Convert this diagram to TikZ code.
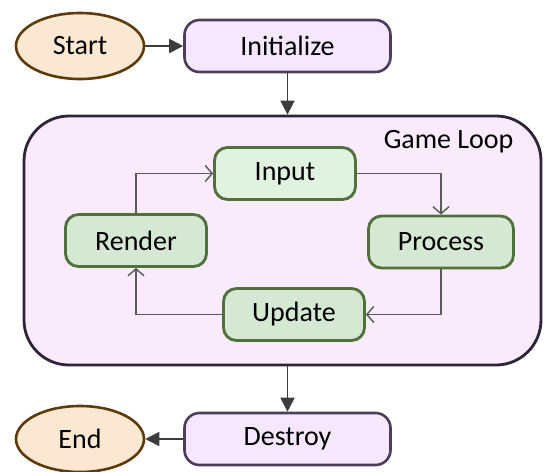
\documentclass[tikz,border=0pt]{standalone}
\usepackage{fontspec}
\setmainfont{Carlito}
\usetikzlibrary{arrows.meta,shapes.geometric}

\definecolor{termfill}{HTML}{FAE8D2}
\definecolor{termline}{HTML}{5E3A0A}
\definecolor{lilfill}{HTML}{F5E8FE}
\definecolor{lilline}{HTML}{4D3D5A}
\definecolor{loopfill}{HTML}{F9EAFC}
\definecolor{loopline}{HTML}{2E2438}
\definecolor{infill}{HTML}{E1F3E0}
\definecolor{grfill}{HTML}{D5E8D4}
\definecolor{grline}{HTML}{50703C}
\definecolor{flowline}{HTML}{3C3C3C}
\definecolor{cycleline}{HTML}{5A5A5A}

\tikzset{
  terminal/.style={ellipse, draw=termline, fill=termfill, line width=2.6pt,
    minimum width=128pt, minimum height=66pt, inner sep=0pt},
  stage/.style={rectangle, rounded corners=15pt, draw=lilline, fill=lilfill,
    line width=2.6pt, minimum width=206pt, minimum height=52pt, inner sep=0pt},
  phase/.style={rectangle, rounded corners=13pt, draw=grline, fill=grfill,
    line width=2.8pt, minimum width=141pt, minimum height=52pt, inner sep=0pt},
  loopbox/.style={rectangle, rounded corners=45pt, draw=loopline, fill=loopfill,
    line width=2.8pt, minimum width=517pt, minimum height=249pt, inner sep=0pt},
  flow/.style={draw=flowline, line width=1.8pt, -{Triangle[length=14pt,width=14pt]}},
  cycle/.style={draw=cycleline, line width=1.4pt, -{Straight Barb[length=7pt,width=16pt]}},
  every node/.style={font=\fontsize{28}{32}\selectfont}
}

\begin{document}
\begin{tikzpicture}[x=1pt,y=-1pt]
\useasboundingbox (0,0) rectangle (550,472);

% outer loop container
\node[loopbox] (loop) at (282.5,240.5) {};
\node[anchor=base east] (looplabel) at (517,148) {Game Loop};

% lifecycle nodes
\node[terminal] (start) at (80,46) {Start};
\node[stage] (init) at (287.5,46) {Initialize};
\node[stage] (destroy) at (287.5,439) {Destroy};
\node[terminal] (end) at (80,439) {End};

% loop phases
\node[phase, fill=infill] (input) at (285,173.5) {Input};
\node[phase, minimum width=145pt] (process) at (441,242) {Process};
\node[phase] (update) at (294,314.5) {Update};
\node[phase] (render) at (136,240.5) {Render};

% lifecycle connectors
\draw[flow] (start) -- (init);
\draw[flow] (init.south) -- (init.south |- loop.north);
\draw[flow] (init.south |- loop.south) -- (destroy.north);
\draw[flow] (destroy) -- (end);

% loop connectors
\draw[cycle] (input.east) -| (process.north);
\draw[cycle] (process.south) |- (update.east);
\draw[cycle] (update.west) -| (render.south);
\draw[cycle] (render.north) |- (input.west);
\end{tikzpicture}
\end{document}
